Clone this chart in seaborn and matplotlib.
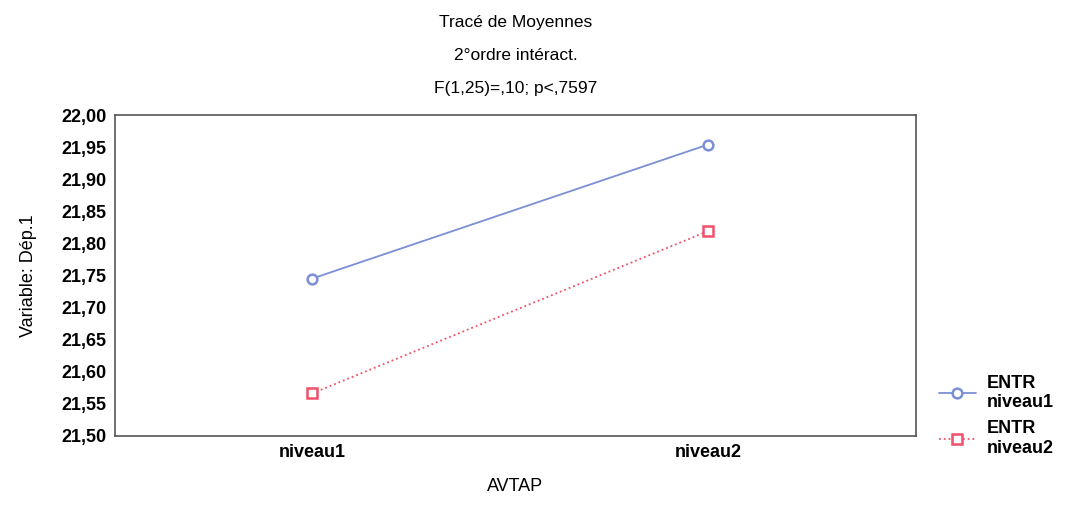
import numpy as np
import pandas as pd
import matplotlib
matplotlib.use("Agg")
import matplotlib.pyplot as plt
import seaborn as sns

# data
avtap = ["niveau1", "niveau2"]
entr_niveau1 = [21.745, 21.954]
entr_niveau2 = [21.566, 21.819]
series_names = ["ENTR\nniveau1", "ENTR\nniveau2"]
y_ticks = [21.50, 21.55, 21.60, 21.65, 21.70, 21.75, 21.80, 21.85, 21.90, 21.95, 22.00]

df = pd.DataFrame({
    "AVTAP": avtap * 2,
    "value": entr_niveau1 + entr_niveau2,
    "ENTR": [series_names[0]] * 2 + [series_names[1]] * 2,
})

sns.set_style("white")
plt.rcParams["font.family"] = ["Liberation Sans", "DejaVu Sans"]
plt.rcParams["text.color"] = "black"
plt.rcParams["axes.labelcolor"] = "black"
plt.rcParams["xtick.color"] = "black"
plt.rcParams["ytick.color"] = "black"

fig = plt.figure(figsize=(10.66, 5.05), dpi=100)
ax = fig.add_axes([0.108, 0.137, 0.751, 0.635])

colors = ["#7b8fd6", "#f0506a"]
markers = ["o", "s"]
styles = ["-", ":"]
for name, c, m, ls in zip(series_names, colors, markers, styles):
    sub = df[df["ENTR"] == name]
    sns.lineplot(data=sub, x="AVTAP", y="value", ax=ax, color=c, linestyle=ls,
                 linewidth=1.3, marker=m, markersize=7, markerfacecolor="white",
                 markeredgecolor=c, markeredgewidth=1.8, label=name)

ax.set_xlim(-0.497, 1.525)
ax.set_ylim(21.50, 22.00)
ax.set_yticks(y_ticks)
ax.set_yticklabels([f"{v:.2f}".replace(".", ",") for v in y_ticks])
for lab in ax.get_yticklabels() + ax.get_xticklabels():
    lab.set_fontweight("bold")
    lab.set_fontsize(13)
ax.tick_params(axis="both", length=0, pad=6)
for sp in ax.spines.values():
    sp.set_color("#555555")
    sp.set_linewidth(1.2)

ax.set_xlabel("AVTAP", fontsize=13, labelpad=12)
ax.set_ylabel("Variable: Dép.1", fontsize=13, labelpad=18)
ax.set_title("Tracé de Moyennes\n2°ordre intéract.\nF(1,25)=,10; p<,7597",
             fontsize=12.5, linespacing=2.5, pad=16)

ax.get_legend().remove()
handles, labels = ax.get_legend_handles_labels()
fig.legend(handles, labels, loc="upper left", bbox_to_anchor=(0.866, 0.29),
           frameon=False, handlelength=2.0, handletextpad=0.6, labelspacing=0.5,
           prop={"weight": "bold", "size": 13})

fig.savefig("out.png", dpi=100)
